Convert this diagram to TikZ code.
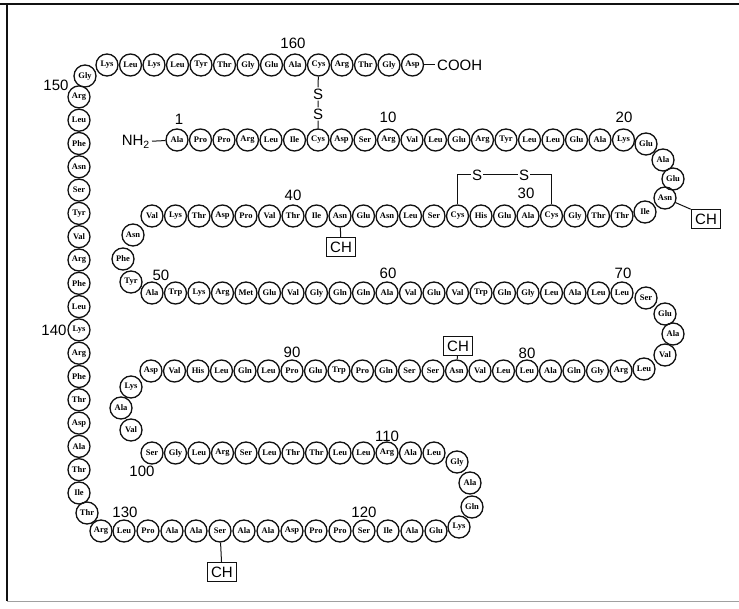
\documentclass[tikz,border=0pt]{standalone}
\usepackage{fontspec}
\setmainfont{Liberation Sans}
\newfontfamily\resfont{Liberation Serif}
\usepackage{xcolor}
\definecolor{ink}{HTML}{111111}
\definecolor{rule}{HTML}{A0A0A0}
\tikzset{
  res/.style={circle,draw=ink,line width=1.3pt,minimum size=22pt,inner sep=0pt,
    font=\resfont\bfseries\fontsize{8.5}{8.5}\selectfont},
  num/.style={font=\fontsize{15}{15}\selectfont,inner sep=0pt},
  sulf/.style={font=\fontsize{15}{15}\selectfont,inner sep=1pt},
  chbox/.style={draw=ink,line width=1pt,font=\fontsize{15}{15}\selectfont,inner xsep=4pt,inner ysep=4pt},
  bond/.style={ink,line width=1pt}
}
\begin{document}
\begin{tikzpicture}[x=1pt,y=-1pt]
  \useasboundingbox (0,0) rectangle (739,609);
  \draw[ink,line width=2.5pt] (0,4)--(739,4);
  \draw[ink,line width=1.2pt] (7,4)--(7,601);
  \draw[rule,line width=1pt] (7,601)--(739,601);
  % straight runs of the chain: first residue / x / y / dx / dy / names
  \foreach \first/\x/\y/\dx/\dy/\names in {
      152/107/65/23.5/0/{Lys,Leu,Lys,Leu,Tyr,Thr,Gly,Glu,Ala,Cys,Arg,Thr,Gly,Asp},
      1/177/140/23.5/0/{Ala,Pro,Pro,Arg,Leu,Ile,Cys,Asp,Ser,Arg,Val,Leu,Glu,Arg,Tyr,Leu,Leu,Glu,Ala,Lys},
      26/622/216/-23.5/0/{Thr,Thr,Gly,Cys,Ala,Glu,His,Cys,Ser,Leu,Asn,Glu,Asn,Ile,Thr,Val,Pro,Asp,Thr,Lys,Val},
      50/152/293/23.5/0/{Ala,Trp,Lys,Arg,Met,Glu,Val,Gly,Gln,Gln,Ala,Val,Glu,Val,Trp,Gln,Gly,Leu,Ala,Leu,Leu},
      76/621/371/-23.5/0/{Arg,Gly,Gln,Ala,Leu,Leu,Val,Asn,Ser,Ser,Gln,Pro,Trp,Glu,Pro,Leu,Gln,Leu,His,Val,Asp},
      100/152/453/23.5/0/{Ser,Gly,Leu,Arg,Ser,Leu,Thr,Thr,Leu,Leu,Arg,Ala,Leu},
      117/436/531/-24/0/{Glu,Ala,Ile,Ser,Pro,Pro,Asp,Ala,Ala,Ser,Ala,Ala,Pro,Leu},
      133/79/493/0/-23.3/{Ile,Thr,Ala,Asp,Thr,Phe,Arg,Lys,Leu,Phe,Arg,Val,Tyr,Ser,Asn,Phe,Leu,Arg}}
    \foreach \lab [count=\i from 0] in \names {
      \pgfmathtruncatemacro\n{\first+\i}
      \node[res] (r\n) at ({\x+\i*(\dx)},{\y+\i*(\dy)}) {\lab};
    }
  % residues in the turns
  \foreach \n/\lab/\px/\py in {151/Gly/85/76, 21/Glu/646/144, 22/Ala/663/160, 23/Glu/673/179,
      24/Asn/665/198, 25/Ile/645/212, 47/Asn/133/235, 48/Phe/123/259, 49/Tyr/131/282,
      71/Ser/646/298, 72/Glu/665/314, 73/Ala/673/334, 74/Val/665/355, 75/Leu/644/369,
      97/Lys/131/387, 98/Ala/121/408, 99/Val/131/430, 113/Gly/457/462, 114/Ala/470/483,
      115/Gln/472/507, 116/Lys/459/527, 131/Arg/101/531, 132/Thr/87/513}
    \node[res] (r\n) at (\px,\py) {\lab};
  % position numbers
  \foreach \t/\px/\py in {1/179/119, 10/388/117, 20/624/117, 30/526/193, 40/293/195,
      50/161/275, 60/388/273, 70/623/273, 80/527/353, 90/292/352, 100/142/471,
      110/387/436, 120/364/512, 130/125/512, 140/54/330, 150/56/85, 160/293/43}
    \node[num] (n\t) at (\px,\py) {\t};
  \node[num,anchor=east,inner xsep=2pt] (nh2) at (152,142) {NH\textsubscript{2}};
  \node[num,anchor=west,inner xsep=2pt] (cooh) at (435,65) {COOH};
  \draw[bond] (nh2) -- (r1);
  \draw[bond] (r165) -- (cooh);
  % disulfide bridges
  \node[sulf] (s161) at (318,94) {S};
  \node[sulf] (s7) at (318,114) {S};
  \draw[bond] (r161) -- (s161) (s161) -- (s7) (s7) -- (r7);
  \node[sulf] (s33) at (477,175) {S};
  \node[sulf] (s29) at (524,175) {S};
  \draw[bond] (r33.north) |- (s33) -- (s29) -| (r29.north);
  % carbohydrate sites
  \node[chbox] (ch24) at (706,219) {CH};
  \node[chbox] (ch38) at (341,247) {CH};
  \node[chbox] (ch83) at (458,346) {CH};
  \node[chbox] (ch126) at (222,572) {CH};
  \draw[bond] (r24) -- (ch24.north west);
  \draw[bond] (r38) -- (ch38);
  \draw[bond] (r83) -- (ch83);
  \draw[bond] (r126) -- (ch126);
\end{tikzpicture}
\end{document}
